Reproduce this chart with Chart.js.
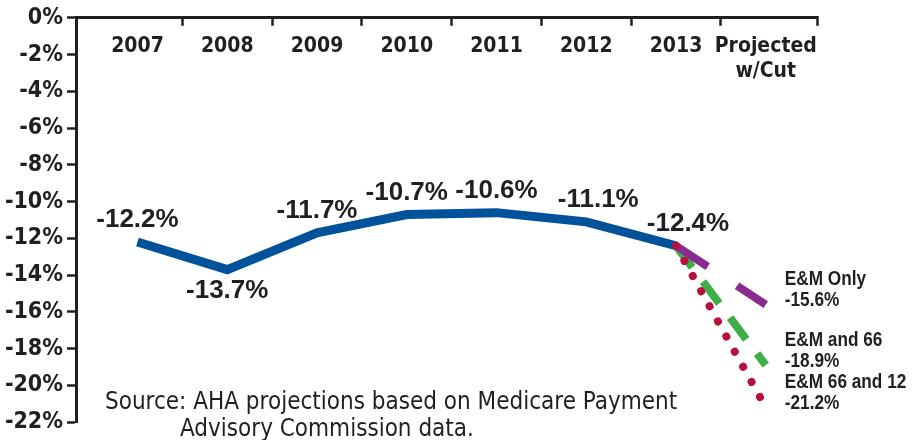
<!DOCTYPE html>
<html>
<head>
<meta charset="utf-8">
<title>Medicare margins</title>
<script src="https://cdn.jsdelivr.net/npm/chart.js@4.4.0/dist/chart.umd.min.js"></script>
<style>
  html, body { margin: 0; padding: 0; background: #fff; }
  #wrap { position: relative; width: 913px; height: 440px; overflow: hidden; }
  #chart { display: block; }
  #source {
    position: absolute; left: 105px; top: 388px;
    font: 24px/27px 'DejaVu Sans Condensed', sans-serif;
    color: #231f20; white-space: nowrap;
  }
  #source .indent { padding-left: 75px; }
</style>
</head>
<body>
<div id="wrap">
  <canvas id="chart" width="913" height="440"></canvas>
  <div id="source">Source: AHA projections based on Medicare Payment<br><span class="indent">Advisory Commission data.</span></div>
</div>
<script>
const years = ['2007', '2008', '2009', '2010', '2011', '2012', '2013'];
const projectedLabel = ['Projected', 'w/Cut'];
const actualValues = [-12.2, -13.7, -11.7, -10.7, -10.6, -11.1, -12.4];
const scenarioNames = ['E&M Only', 'E&M and 66', 'E&M 66 and 12'];
const scenarioValues = [-15.6, -18.9, -21.2];
const yTickValues = [0, -2, -4, -6, -8, -10, -12, -14, -16, -18, -20, -22];

const ink = '#231f20';
const narrow = "'DejaVu Sans Condensed', sans-serif";
const wide = "'Liberation Sans', Arial, sans-serif";

// x runs over category index, with extra room on the left like the original
const X_MIN = -0.685;
const X_MAX = 7.571;
const xTickValues = [];
for (let i = 0; i <= years.length; i++) {
  xTickValues.push(i);
  if (i < years.length) xTickValues.push(i + 0.5);
}
xTickValues.push(X_MAX);

const fmt = (v) => `${v.toFixed(1)}%`;
const lastIndex = years.length - 1;

const scenarioStyles = [
  {color: '#8c2b8f', dash: [38, 35], cap: 'butt', width: 8, order: 2},
  {color: '#3fae49', dash: [27, 18], cap: 'butt', width: 8, order: 3},
  {color: '#b7103f', dash: [0.1, 17.2], cap: 'round', width: 8, order: 1},
];

const datasets = [
  {
    label: 'Actual',
    data: actualValues.map((y, x) => ({x, y})),
    borderColor: '#00529b',
    borderWidth: 9,
    pointRadius: 0,
    order: 4,
  },
  ...scenarioNames.map((name, s) => ({
    label: name,
    data: [{x: lastIndex, y: actualValues[lastIndex]}, {x: years.length, y: scenarioValues[s]}],
    borderColor: scenarioStyles[s].color,
    borderWidth: scenarioStyles[s].width,
    borderDash: scenarioStyles[s].dash,
    borderCapStyle: scenarioStyles[s].cap,
    pointRadius: 0,
    order: scenarioStyles[s].order,
  })),
];

// squeeze a regular face horizontally, like a narrow cut
const narrowText = (ctx, text, x, y) => {
  ctx.save();
  ctx.translate(x, y);
  ctx.scale(0.82, 1);
  ctx.fillText(text, 0, 0);
  ctx.restore();
};

const valueLabels = {
  id: 'valueLabels',
  afterDatasetsDraw(chart) {
    const ctx = chart.ctx;
    ctx.save();
    ctx.fillStyle = ink;
    ctx.textBaseline = 'middle';

    ctx.textAlign = 'center';
    ctx.font = `bold 26px ${wide}`;
    chart.getDatasetMeta(0).data.forEach((pt, i) => {
      const v = actualValues[i];
      const prev = actualValues[i - 1];
      const next = actualValues[i + 1];
      const dip = prev !== undefined && next !== undefined && v < prev && v < next;
      const falling = prev !== undefined && v < prev && !dip;
      ctx.fillText(fmt(v), pt.x + (falling ? 12 : 0), pt.y + (dip ? 21 : -22));
    });

    ctx.textAlign = 'left';
    ctx.font = `bold 21px ${wide}`;
    scenarioNames.forEach((name, s) => {
      const pts = chart.getDatasetMeta(s + 1).data;
      const end = pts[pts.length - 1];
      narrowText(ctx, name, end.x + 19, end.y - 25);
      narrowText(ctx, fmt(scenarioValues[s]), end.x + 19, end.y - 4);
    });
    ctx.restore();
  },
};

Chart.defaults.font.family = narrow;
Chart.defaults.color = ink;

new Chart(document.getElementById('chart'), {
  type: 'line',
  data: {datasets},
  plugins: [valueLabels],
  options: {
    responsive: false,
    animation: false,
    layout: {padding: {top: 0, right: 96, bottom: 10, left: 0}},
    plugins: {legend: {display: false}, tooltip: {enabled: false}},
    scales: {
      x: {
        type: 'linear',
        position: 'top',
        min: X_MIN,
        max: X_MAX,
        afterBuildTicks: (scale) => {
          scale.ticks = xTickValues.map((value) => ({value}));
        },
        afterFit: (scale) => {
          scale.height = 17;
        },
        ticks: {
          autoSkip: false,
          maxRotation: 0,
          mirror: true,
          padding: -9,
          crossAlign: 'far',
          color: ink,
          font: {size: 21, weight: 'bold', lineHeight: '25px'},
          callback: (v) => {
            if (!Number.isInteger(v)) return '';
            return v < years.length ? years[v] : projectedLabel;
          },
        },
        grid: {
          drawOnChartArea: false,
          tickLength: -8,
          tickWidth: 2.5,
          tickColor: (c) => (Number.isInteger(c.tick.value) ? 'rgba(0,0,0,0)' : ink),
        },
        border: {color: ink, width: 3},
      },
      y: {
        min: -22,
        max: 0,
        afterBuildTicks: (scale) => {
          scale.ticks = yTickValues.map((value) => ({value}));
        },
        afterFit: (scale) => {
          scale.width = 76;
        },
        ticks: {
          padding: 4,
          color: ink,
          font: {size: 23, weight: 'bold'},
          callback: (v) => `${v}%`,
        },
        grid: {
          drawOnChartArea: false,
          tickLength: 9,
          tickWidth: 2.5,
          tickColor: ink,
        },
        border: {color: ink, width: 3},
      },
    },
  },
});
</script>
</body>
</html>
